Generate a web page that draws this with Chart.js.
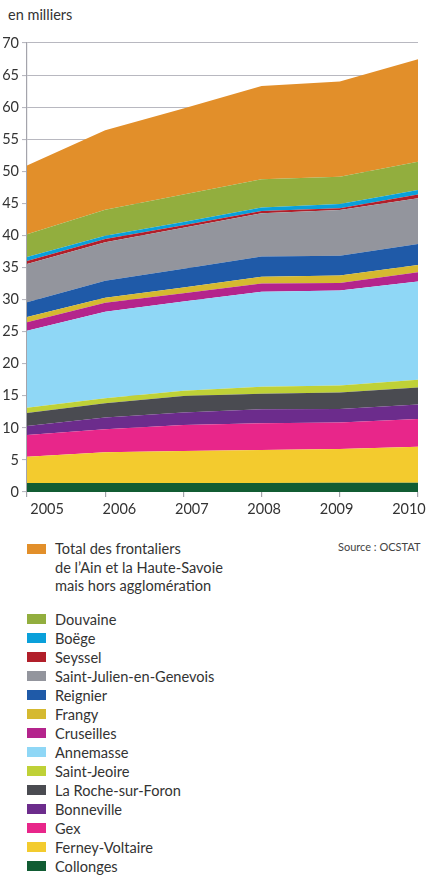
<!DOCTYPE html>
<html>
<head>
<meta charset="utf-8">
<script src="https://cdn.jsdelivr.net/npm/chart.js@4"></script>
<style>
html,body{margin:0;padding:0;background:#fff;}
body{width:427px;height:877px;position:relative;overflow:hidden;font-family:Lato,"Open Sans",sans-serif;color:#333;}
#unit{position:absolute;left:8px;top:5px;font-size:14.5px;line-height:20px;}
#wrap{position:absolute;left:0;top:0;width:427px;height:525px;}
#source{position:absolute;left:338px;top:540px;font-size:11px;color:#444;line-height:14px;}
#legend{position:absolute;left:27px;top:540px;}
.item{position:relative;padding-left:28px;font-size:14.6px;line-height:19px;height:19px;white-space:nowrap;}
.item.multi{line-height:18.5px;height:auto;white-space:pre-line;margin-bottom:14px;}
.box{position:absolute;left:0;top:4.5px;width:19px;height:10px;}
.item.multi .box{top:4.25px;}
</style>
</head>
<body>
<div id="unit">en milliers</div>
<div id="wrap"><canvas id="c" width="427" height="525"></canvas></div>
<div id="source">Source : OCSTAT</div>
<div id="legend"></div>
<script>
// ---- data (thousands of cross-border workers) ----
const years = [2005, 2006, 2007, 2008, 2009, 2010];
const collonges       = [1.4, 1.4, 1.4, 1.4, 1.45, 1.45];
const ferneyVoltaire  = [4.1, 4.8, 5.0, 5.15, 5.25, 5.6];
const gex             = [3.4, 3.6, 4.05, 4.15, 4.15, 4.35];
const bonneville      = [1.4, 1.8, 1.95, 2.2, 2.1, 2.25];
const laRocheSurForon = [2.0, 2.25, 2.55, 2.4, 2.55, 2.65];
const saintJeoire     = [0.85, 0.75, 0.85, 1.1, 1.1, 1.2];
const annemasse       = [12.0, 13.5, 13.9, 14.8, 14.8, 15.3];
const cruseilles      = [1.3, 1.4, 1.3, 1.3, 1.2, 1.45];
const frangy          = [0.85, 0.8, 0.9, 1.05, 1.15, 1.15];
const reignier        = [2.3, 2.65, 2.9, 3.15, 3.1, 3.25];
const saintJulien     = [5.95, 6.0, 6.4, 6.75, 7.1, 7.15];
const seyssel         = [0.45, 0.5, 0.4, 0.35, 0.3, 0.6];
const boege           = [0.65, 0.5, 0.5, 0.55, 0.65, 0.7];
const douvaine        = [3.55, 4.05, 4.3, 4.4, 4.25, 4.4];
const horsAgglo       = [10.7, 12.4, 13.4, 14.55, 14.85, 15.95];

const seriesNames = ["Collonges","Ferney-Voltaire","Gex","Bonneville","La Roche-sur-Foron","Saint-Jeoire","Annemasse","Cruseilles","Frangy","Reignier","Saint-Julien-en-Genevois","Seyssel","Boëge","Douvaine","Total des frontaliers\nde l’Ain et la Haute-Savoie\nmais hors agglomération"];
const seriesValues = [collonges, ferneyVoltaire, gex, bonneville, laRocheSurForon, saintJeoire, annemasse, cruseilles, frangy, reignier, saintJulien, seyssel, boege, douvaine, horsAgglo];
const seriesColors = ["#115c33","#f3cb2e","#e8268a","#6c2c8c","#4a4b51","#bfd137","#8fd7f6","#b4248c","#d5b930","#1f5aa8","#93959d","#b11f2a","#0aa0da","#92ae3e","#e28f2a"];
const yTicks = [0,5,10,15,20,25,30,35,40,45,50,55,60,65,70];

Chart.defaults.font.family = "Lato, 'Open Sans', sans-serif";
Chart.defaults.color = "#333";

const datasets = seriesValues.map((arr, i) => ({
  label: seriesNames[i],
  data: years.map((yr, j) => ({x: yr, y: arr[j]})),
  backgroundColor: seriesColors[i],
  borderColor: seriesColors[i],
  borderWidth: 0,
  pointRadius: 0,
  tension: 0,
  fill: i === 0 ? 'origin' : '-1'
}));

const yearTicks = s => { s.ticks = years.map(v => ({value: v})); };

new Chart(document.getElementById('c'), {
  type: 'line',
  data: {datasets},
  options: {
    responsive: false,
    animation: false,
    layout: {padding: {top: 43, right: 9, bottom: 0, left: 0}},
    plugins: {legend: {display: false}, title: {display: false}, tooltip: {enabled: false}},
    scales: {
      x: {
        type: 'linear', position: 'bottom', min: years[0], max: years[years.length-1],
        afterBuildTicks: yearTicks,
        ticks: {display: false},
        grid: {drawOnChartArea: false, drawTicks: true, tickLength: 5, color: '#a4a4ac', lineWidth: 1.2},
        border: {display: false},
        afterFit: s => { s.height = 5; s.paddingLeft = 0; s.paddingRight = 0; }
      },
      x2: {
        type: 'linear', position: 'bottom', min: 2004.723, max: 2010.125,
        afterBuildTicks: yearTicks,
        grid: {display: false, drawTicks: false},
        border: {display: false},
        ticks: {font: {size: 14.5}, color: '#333', padding: 4, callback: v => String(v)},
        afterFit: s => { s.height = 28; s.paddingLeft = 0; s.paddingRight = 0; }
      },
      y: {
        stacked: true, min: 0, max: 70,
        afterBuildTicks: s => { s.ticks = yTicks.map(v => ({value: v})); },
        ticks: {font: {size: 14.5}, color: '#333', padding: 3, callback: v => String(v)},
        grid: {color: '#b8b8c0', lineWidth: 1.1, tickLength: 5},
        border: {color: '#a4a4ac', width: 1.2},
        afterFit: s => { s.width = 27; s.paddingTop = 0; s.paddingBottom = 0; }
      }
    }
  }
});

// HTML legend built from the series (top of stack first)
const legend = document.getElementById('legend');
for (let i = seriesNames.length - 1; i >= 0; i--) {
  const d = document.createElement('div');
  d.className = 'item' + (seriesNames[i].includes('\n') ? ' multi' : '');
  const b = document.createElement('span');
  b.className = 'box';
  b.style.background = seriesColors[i];
  d.appendChild(b);
  d.appendChild(document.createTextNode(seriesNames[i]));
  legend.appendChild(d);
}
</script>
</body>
</html>
